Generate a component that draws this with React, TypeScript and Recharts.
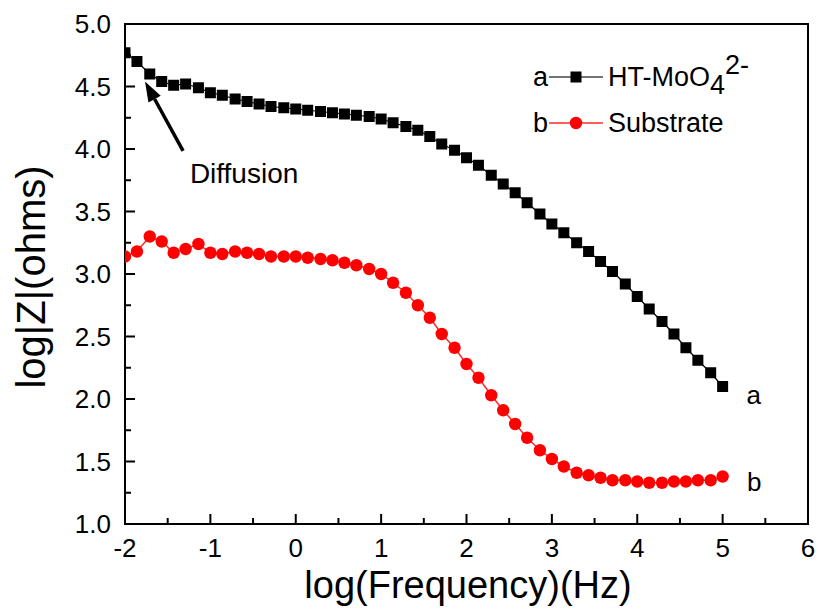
import React from 'react';
import { LineChart, Line, XAxis, YAxis, ReferenceArea, ReferenceLine, ReferenceDot } from 'recharts';

// log(frequency) sampling, 7 points per decade
const freqLog = [
  -2.0, -1.86, -1.71, -1.57, -1.43, -1.29, -1.14,
  -1.0, -0.86, -0.71, -0.57, -0.43, -0.29, -0.14,
  0.0, 0.14, 0.29, 0.43, 0.57, 0.71, 0.86,
  1.0, 1.14, 1.29, 1.43, 1.57, 1.71, 1.86,
  2.0, 2.14, 2.29, 2.43, 2.57, 2.71, 2.86,
  3.0, 3.14, 3.29, 3.43, 3.57, 3.71, 3.86,
  4.0, 4.14, 4.29, 4.43, 4.57, 4.71, 4.86,
  5.0,
];

// a: HT-MoO4 2-
const htMoO4 = [
  4.77, 4.7, 4.6, 4.54, 4.51, 4.52, 4.49, 4.45, 4.43, 4.4,
  4.38, 4.36, 4.34, 4.33, 4.32, 4.31, 4.3, 4.29, 4.28, 4.27,
  4.26, 4.24, 4.21, 4.18, 4.15, 4.1, 4.04, 3.99, 3.93, 3.87,
  3.79, 3.72, 3.65, 3.57, 3.48, 3.4, 3.33, 3.25, 3.18, 3.1,
  3.02, 2.92, 2.82, 2.72, 2.62, 2.52, 2.41, 2.31, 2.21, 2.1,
];

// b: Substrate
const substrate = [
  3.14, 3.18, 3.3, 3.26, 3.17, 3.2, 3.24, 3.17, 3.16, 3.18,
  3.17, 3.16, 3.14, 3.14, 3.14, 3.13, 3.12, 3.11, 3.09, 3.07,
  3.04, 3.0, 2.93, 2.85, 2.75, 2.65, 2.52, 2.41, 2.28, 2.17,
  2.03, 1.91, 1.8, 1.69, 1.59, 1.52, 1.46, 1.41, 1.39, 1.37,
  1.35, 1.35, 1.34, 1.33, 1.33, 1.34, 1.34, 1.35, 1.35, 1.38,
];

const xTicks = [-2, -1.5, -1, -0.5, 0, 0.5, 1, 1.5, 2, 2.5, 3, 3.5, 4, 4.5, 5, 5.5, 6];
const yTicks = [1, 1.25, 1.5, 1.75, 2, 2.25, 2.5, 2.75, 3, 3.25, 3.5, 3.75, 4, 4.25, 4.5, 4.75, 5];

const data = freqLog.map((f, i) => ({ f, a: htMoO4[i], b: substrate[i] }));

const FONT = '"Liberation Sans", Arial, Helvetica, sans-serif';

const SquareDot = (props: any) => {
  const { cx, cy, index } = props;
  if (cx == null || cy == null) return null;
  return <rect key={`sq-${index}`} x={cx - 5.5} y={cy - 5.5} width={11} height={11} fill="#000" />;
};

const CircleDot = (props: any) => {
  const { cx, cy, index } = props;
  if (cx == null || cy == null) return null;
  return <circle key={`ci-${index}`} cx={cx} cy={cy} r={6.2} fill="#ff0000" />;
};

const XTick = (props: any) => {
  const { x, y, payload } = props;
  const major = Number.isInteger(payload.value);
  return (
    <g>
      <line x1={x} y1={y} x2={x} y2={y - (major ? 10 : 6)} stroke="#000" strokeWidth={2} />
      {major && (
        <text x={x} y={y + 33} textAnchor="middle" fontSize={26} fontFamily={FONT} fill="#000">
          {payload.value}
        </text>
      )}
    </g>
  );
};

const YTick = (props: any) => {
  const { x, y, payload } = props;
  const major = Math.abs(payload.value * 2 - Math.round(payload.value * 2)) < 1e-6;
  return (
    <g>
      <line x1={x} y1={y} x2={x + (major ? 10 : 6)} y2={y} stroke="#000" strokeWidth={2} />
      {major && (
        <text x={x - 14} y={y} textAnchor="end" dominantBaseline="central" fontSize={26} fontFamily={FONT} fill="#000">
          {payload.value.toFixed(1)}
        </text>
      )}
    </g>
  );
};

const ArrowShape = (props: any) => {
  const { x1, y1, x2, y2 } = props;
  if ([x1, y1, x2, y2].some((v) => v == null)) return null;
  const ang = Math.atan2(y2 - y1, x2 - x1);
  const len = 20;
  const half = 7;
  const bx = x2 - len * Math.cos(ang);
  const by = y2 - len * Math.sin(ang);
  const px = -Math.sin(ang) * half;
  const py = Math.cos(ang) * half;
  return (
    <g>
      <line x1={x1} y1={y1} x2={bx} y2={by} stroke="#000" strokeWidth={3.5} />
      <polygon points={`${x2},${y2} ${bx + px},${by + py} ${bx - px},${by - py}`} fill="#000" />
    </g>
  );
};

const textDot = (label: string, size: number, anchor: string, baseline: string) => (props: any) => {
  const { cx, cy } = props;
  if (cx == null || cy == null) return null;
  return (
    <text x={cx} y={cy} textAnchor={anchor} dominantBaseline={baseline} fontSize={size} fontFamily={FONT} fill="#000">
      {label}
    </text>
  );
};

const legendRow: React.CSSProperties = {
  position: 'absolute',
  left: 533,
  height: 40,
  lineHeight: '40px',
  fontSize: 27,
  fontFamily: FONT,
  color: '#000',
  display: 'flex',
  alignItems: 'center',
  whiteSpace: 'nowrap',
};

export default function App() {
  return (
    <div style={{ position: 'absolute', left: 0, top: 0, width: 819, height: 613, background: '#fff' }}>
      <LineChart width={819} height={613} data={data} margin={{ top: 24, right: 11, bottom: 29, left: 25 }}>
        <XAxis
          dataKey="f"
          type="number"
          domain={[-2, 6]}
          ticks={xTicks}
          interval={0}
          allowDataOverflow
          tickLine={false}
          tickSize={0}
          tickMargin={0}
          axisLine={{ stroke: '#000', strokeWidth: 2 }}
          tick={(p: any) => <XTick {...p} />}
          height={60}
          label={{
            content: () => (
              <text x={468} y={598} textAnchor="middle" fontSize={38} fontFamily={FONT} fill="#000">
                log(Frequency)(Hz)
              </text>
            ),
          }}
        />
        <YAxis
          type="number"
          domain={[1, 5]}
          ticks={yTicks}
          interval={0}
          allowDataOverflow
          tickLine={false}
          tickSize={0}
          tickMargin={0}
          axisLine={{ stroke: '#000', strokeWidth: 2 }}
          tick={(p: any) => <YTick {...p} />}
          width={100}
          label={{
            content: () => (
              <text
                x={45}
                y={277}
                transform="rotate(-90, 45, 277)"
                textAnchor="middle"
                fontSize={40}
                fontFamily={FONT}
                fill="#000"
              >
                log|Z|(ohms)
              </text>
            ),
          }}
        />
        <ReferenceArea x1={-2} x2={6} y1={1} y2={5} fill="none" stroke="#000" strokeWidth={2} />
        <Line
          dataKey="b"
          type="linear"
          stroke="#ff2a2a"
          strokeWidth={1.5}
          dot={CircleDot}
          activeDot={false}
          isAnimationActive={false}
        />
        <Line
          dataKey="a"
          type="linear"
          stroke="#000"
          strokeWidth={1.2}
          dot={SquareDot}
          activeDot={false}
          isAnimationActive={false}
        />
        <ReferenceLine
          segment={[
            { x: -1.32, y: 3.985 },
            { x: -1.766, y: 4.54 },
          ]}
          shape={ArrowShape}
        />
        <ReferenceDot x={-1.24} y={3.726} r={0} shape={textDot('Diffusion', 28, 'start', 'auto')} />
        <ReferenceDot x={5.365} y={2.03} r={0} shape={textDot('a', 26, 'middle', 'central')} />
        <ReferenceDot x={5.37} y={1.34} r={0} shape={textDot('b', 26, 'middle', 'central')} />
      </LineChart>

      <div style={{ ...legendRow, top: 57 }}>
        <span style={{ width: 15 }}>a</span>
        <svg width={60} height={20}>
          <line x1={1} y1={10} x2={55} y2={10} stroke="#444" strokeWidth={1.5} />
          <rect x={22.5} y={4.5} width={11} height={11} fill="#000" />
        </svg>
        <span>
          HT-MoO
          <span style={{ position: 'relative', top: 8 }}>4</span>
          <span style={{ position: 'relative', top: -12 }}>2-</span>
        </span>
      </div>
      <div style={{ ...legendRow, top: 103 }}>
        <span style={{ width: 15 }}>b</span>
        <svg width={60} height={20}>
          <line x1={1} y1={10} x2={55} y2={10} stroke="#ff2a2a" strokeWidth={1.5} />
          <circle cx={28} cy={10} r={6.2} fill="#ff0000" />
        </svg>
        <span>Substrate</span>
      </div>
    </div>
  );
}
